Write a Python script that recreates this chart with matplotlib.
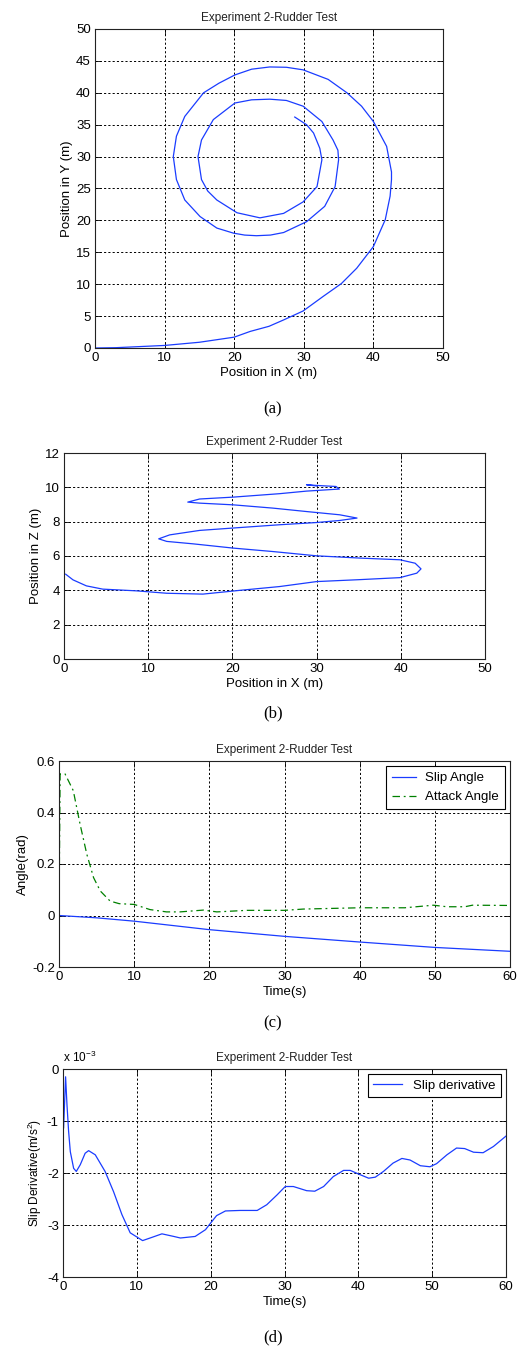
import numpy as np
import matplotlib
matplotlib.use("Agg")
import matplotlib.pyplot as plt

plt.rcParams['font.family'] = ['Liberation Sans', 'DejaVu Sans']
plt.rcParams['mathtext.fontset'] = 'custom'
plt.rcParams['mathtext.rm'] = 'Liberation Sans'

TITLE = "Experiment 2-Rudder Test"

# (a) trajectory X-Y
traj_x = [0, 3, 5, 10, 15, 20, 22.3, 25.0, 27.1, 29.9, 32.8, 35.4, 37.6, 40.0, 41.7, 42.4,
          42.6, 42.6, 41.9, 40.0, 38.3, 36.2, 33.5, 29.9, 27.5, 25.1, 22.5, 20.1, 17.8,
          15.6, 12.9, 11.7, 11.25, 11.7, 12.9, 15.1, 17.5, 19.9, 21.5, 23.2, 25.2, 27.1,
          30.4, 33.0, 34.5, 35.0, 34.9, 34.2, 32.6, 29.9, 27.5, 25.1, 22.5, 20.1, 17.0,
          15.3, 14.8, 15.3, 16.2, 17.5, 20.4, 23.7, 27.1, 29.9, 31.9, 32.6, 32.3, 31.4,
          30.4, 28.7]
traj_y = [0, 0.05, 0.15, 0.4, 0.9, 1.7, 2.6, 3.4, 4.4, 5.8, 8.1, 10.1, 12.5, 15.9, 20.1,
          23.8, 26.4, 27.6, 31.6, 35.5, 37.9, 40.0, 42.1, 43.6, 44.0, 44.05, 43.7, 42.8,
          41.5, 40.0, 36.3, 33.2, 30.0, 26.4, 23.2, 20.6, 18.8, 18.0, 17.7, 17.6, 17.7,
          18.1, 19.8, 22.2, 25.3, 29.5, 31.0, 32.6, 35.5, 37.9, 38.8, 39.0, 38.9, 38.4,
          35.8, 32.6, 30.0, 26.4, 24.6, 23.2, 21.2, 20.4, 21.1, 22.9, 25.3, 29.5, 31.3,
          33.7, 35.0, 36.2]

# (b) trajectory X-Z
xz_x = [0.2, 1.07, 2.66, 4.6, 8.6, 12.2, 16.5, 20.9, 25.6, 30.0, 35.0, 39.9, 41.9, 42.4,
        41.7, 39.9, 35.1, 30.0, 24.8, 20.1, 15.3, 12.2, 11.25, 12.55, 16.1, 20.1, 25.6,
        30.0, 32.75, 34.8, 32.75, 28.8, 24.8, 20.1, 16.1, 14.7, 16.1, 20.1, 25.6, 28.8,
        32.7, 32.3, 30.0, 28.8, 30.0]
xz_z = [4.94, 4.61, 4.26, 4.07, 3.97, 3.83, 3.78, 4.0, 4.22, 4.51, 4.62, 4.74, 5.0, 5.25,
        5.58, 5.78, 5.88, 6.01, 6.26, 6.46, 6.71, 6.85, 7.0, 7.23, 7.49, 7.63, 7.82,
        7.95, 8.07, 8.21, 8.4, 8.59, 8.79, 8.98, 9.08, 9.14, 9.32, 9.43, 9.63, 9.78,
        9.9, 10.05, 10.11, 10.15, 10.08]

# (c) angles vs time
slip_t = [0, 5, 10, 20, 30, 40, 50, 60]
slip_angle = [0, -0.009, -0.022, -0.055, -0.081, -0.103, -0.124, -0.139]
att_t = [0, 0.15, 0.8, 1.9, 2.8, 3.7, 4.6, 5.5, 6.8, 8.0, 10.0, 12.1, 14.3, 16.1, 19.2,
         21.0, 25.0, 30.0, 32.5, 40.0, 46.0, 49.8, 51.6, 54.0, 55.0, 60.0]
attack_angle = [0, 0.55, 0.55, 0.485, 0.355, 0.238, 0.147, 0.095, 0.056, 0.046, 0.043,
                0.023, 0.014, 0.014, 0.021, 0.014, 0.02, 0.02, 0.025, 0.03, 0.03, 0.04,
                0.034, 0.034, 0.04, 0.039]

# (d) slip derivative (x 1e-3)
sd_t = [0, 0.05, 0.08, 0.35, 0.54, 0.76, 0.99, 1.44, 1.8, 2.34, 3.0, 3.47, 4.37, 5.7,
        6.85, 7.98, 9.1, 10.78, 12.0, 13.4, 15.0, 15.9, 17.9, 19.3, 19.9, 20.8, 22.0,
        24.0, 26.3, 27.6, 29.0, 30.1, 31.2, 33.0, 34.1, 35.3, 36.6, 38.0, 38.9, 40.2,
        41.4, 42.3, 43.4, 44.7, 45.9, 47.0, 48.4, 49.7, 50.6, 52.0, 53.3, 54.4, 55.6,
        56.9, 58.3, 60.0]
slip_deriv = [0, -0.56, -1.14, -0.15, -0.69, -1.2, -1.59, -1.91, -1.97, -1.84, -1.62,
              -1.57, -1.65, -1.97, -2.36, -2.8, -3.15, -3.3, -3.24, -3.17, -3.22, -3.25,
              -3.22, -3.09, -2.98, -2.82, -2.73, -2.72, -2.72, -2.61, -2.42, -2.26,
              -2.26, -2.34, -2.35, -2.26, -2.07, -1.95, -1.95, -2.03, -2.1, -2.08, -1.97,
              -1.81, -1.72, -1.75, -1.86, -1.88, -1.82, -1.65, -1.52, -1.53, -1.6, -1.61,
              -1.49, -1.29]

W, H = 517, 1348
fig = plt.figure(figsize=(W / 100, H / 100), dpi=100)

BLUE = '#1a3cff'
GREEN = '#008000'
FS = 9.5


def rect(l, t, r, b):
    return [l / W, 1 - b / H, (r - l) / W, (b - t) / H]


def style(ax):
    ax.grid(True, color='black', linestyle=(0, (2.2, 2.2)), linewidth=0.7)
    ax.tick_params(direction='in', top=True, right=True, length=4, width=0.6,
                   labelsize=FS, colors='black', pad=3)
    for s in ax.spines.values():
        s.set_linewidth(0.8)
        s.set_color('#222222')
    ax.set_title(TITLE, fontsize=8.5, pad=6, color='#222222')


# (a)
ax = fig.add_axes(rect(95, 29, 443, 348))
ax.plot(traj_x, traj_y, color=BLUE, lw=0.9)
ax.set_xlim(0, 50)
ax.set_ylim(0, 50)
ax.set_xticks(range(0, 51, 10))
ax.set_yticks(range(0, 51, 5))
ax.set_xlabel("Position in X (m)", fontsize=FS, labelpad=2)
ax.set_ylabel("Position in Y (m)", fontsize=FS, labelpad=2)
style(ax)

# (b)
ax = fig.add_axes(rect(64, 453, 485, 659))
ax.plot(xz_x, xz_z, color=BLUE, lw=0.9)
ax.set_xlim(0, 50)
ax.set_ylim(0, 12)
ax.set_xticks(range(0, 51, 10))
ax.set_yticks(range(0, 13, 2))
ax.set_xlabel("Position in X (m)", fontsize=FS, labelpad=2)
ax.set_ylabel("Position in Z (m)", fontsize=FS, labelpad=2)
style(ax)

# (c)
ax = fig.add_axes(rect(59, 761, 510, 967))
ax.plot(slip_t, slip_angle, color=BLUE, lw=0.9, label="Slip Angle")
ax.plot(att_t, attack_angle, color=GREEN, lw=0.9, linestyle=(0, (6, 3, 1.5, 3)),
        label="Attack Angle")
ax.set_xlim(0, 60)
ax.set_ylim(-0.2, 0.6)
ax.set_xticks(range(0, 61, 10))
ax.set_yticks([-0.2, 0, 0.2, 0.4, 0.6])
ax.set_yticklabels(["-0.2", "0", "0.2", "0.4", "0.6"])
ax.set_xlabel("Time(s)", fontsize=FS, labelpad=2)
ax.set_ylabel("Angle(rad)", fontsize=FS, labelpad=2)
style(ax)
leg = ax.legend(loc='upper right', fontsize=FS, fancybox=False, framealpha=1,
                edgecolor='black', borderaxespad=0.4, handlelength=1.8,
                handletextpad=0.7, borderpad=0.45)
leg.get_frame().set_linewidth(0.8)

# (d)
ax = fig.add_axes(rect(63, 1069, 506, 1277))
ax.plot(sd_t, slip_deriv, color=BLUE, lw=0.9, label="Slip derivative")
ax.set_xlim(0, 60)
ax.set_ylim(-4, 0)
ax.set_xticks(range(0, 61, 10))
ax.set_yticks([-4, -3, -2, -1, 0])
ax.set_yticklabels(["-4", "-3", "-2", "-1", "0"])
ax.set_xlabel("Time(s)", fontsize=FS, labelpad=2)
ax.set_ylabel("Slip Derivative(m/s$^2$)", fontsize=8.5, labelpad=2)
style(ax)
ax.text(0.0, 1.02, "x 10$^{-3}$", transform=ax.transAxes, fontsize=8.5,
        ha='left', va='bottom')
leg = ax.legend(loc='upper right', fontsize=FS, fancybox=False, framealpha=1,
                edgecolor='black', borderaxespad=0.4, handlelength=2.2)
leg.get_frame().set_linewidth(0.8)

# captions
for lab, y in [("(a)", 409), ("(b)", 713), ("(c)", 1023), ("(d)", 1337)]:
    fig.text(273 / W, 1 - y / H, lab, ha='center', va='center', fontsize=12,
             family='Liberation Serif')

fig.savefig("out.png", dpi=100, facecolor='white')
